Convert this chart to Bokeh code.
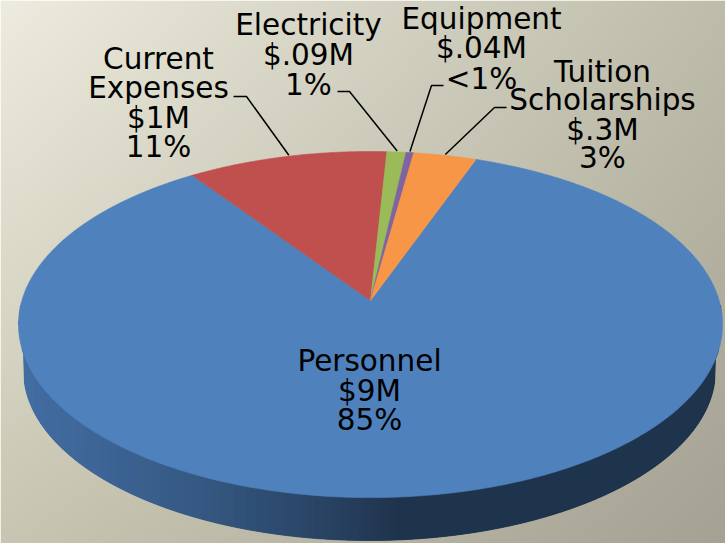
import numpy as np
from bokeh.plotting import figure
from bokeh.embed import file_html
from bokeh.resources import INLINE
from bokeh.core.properties import value

# ---- data (share of budget, %) ----
categories = ["Personnel", "Current Expenses", "Electricity", "Equipment", "Tuition Scholarships"]
shares = [84.8, 10.5, 1.0, 0.4, 3.3]
colors = ["#4F81BD", "#C0504D", "#9BBB59", "#8064A2", "#F79646"]

label_lines = [
    ["Personnel", "$9M", "85%"],
    ["Current", "Expenses", "$1M", "11%"],
    ["Electricity", "$.09M", "1%"],
    ["Equipment", "$.04M", "<1%"],
    ["Tuition", "Scholarships", "$.3M", "3%"],
]

# ---- layout (reference pixels) ----
W, H = 725, 543
CX, APEX_Y = 370.0, 300.0
R_X, R_Y, PERSP = 348.6, 169.7, 0.139
START_DEG = 20.0
LABEL_X = [369, 158, 308, 481, 602]
LABEL_Y = [[360, 390, 419], [58, 87, 117, 146], [24, 54, 84], [18, 47, 78], [71, 99, 129, 157]]
LEADERS = {
    1: ([233, 246], [96, 96]),
    2: ([337, 349], [91, 91]),
    3: ([443, 431], [85, 85]),
    4: ([506, 494], [107, 107]),
}
LEADER_END_DEG = {1: -15.4, 2: 5.0, 3: 7.4, 4: 14.1}
BOT_CX, BOT_CY, BOT_RX, BOT_RY = 369.0, 370.0, 346.0, 170.0
SIDE_STOPS_X = [17, 100, 200, 330, 400, 722]
SIDE_STOPS_RGB = [(66, 110, 163), (60, 100, 150), (52, 88, 130), (40, 65, 98), (30, 50, 75), (29, 50, 76)]
BG_CORNERS = {"tl": (238, 236, 222), "tr": (190, 188, 170), "bl": (200, 198, 178), "br": (165, 162, 148)}


def project(deg):
    t = np.radians(deg)
    w = 1 + PERSP * np.cos(t)
    return CX + R_X * np.sin(t) / w, APEX_Y - R_Y * np.cos(t) / w


p = figure(width=W, height=H, x_range=(0, 725), y_range=(543, 0),
           output_backend="svg", toolbar_location=None, min_border=0,
           outline_line_color=None, background_fill_color=None, border_fill_color=None)
p.axis.visible = False
p.grid.visible = False

# background gradient
u = np.linspace(0, 1, 363)[None, :, None]
v = np.linspace(0, 1, 272)[:, None, None]
c = {k: np.array(val, dtype=float)[None, None, :] for k, val in BG_CORNERS.items()}
rgb = (1 - u) * (1 - v) * c["tl"] + u * (1 - v) * c["tr"] + (1 - u) * v * c["bl"] + u * v * c["br"]
rgba = np.dstack([rgb, np.full((272, 363), 255.0)]).astype(np.uint8)
img = rgba.view(dtype=np.uint32).reshape(272, 363)
p.image_rgba(image=[img], x=0, y=0, dw=725, dh=543)

# side wall
th = np.linspace(90, 270, 1441)
tx, ty = project(th)
order = np.argsort(tx)
xs = np.arange(18, 722, 1.0)
top = np.interp(xs, tx[order], ty[order])
ins = 1 - ((xs - BOT_CX) / BOT_RX) ** 2
bot = np.where(ins > 0, BOT_CY + BOT_RY * np.sqrt(np.clip(ins, 0, None)), top)
bot = np.maximum(bot, top)
sx, sy, sc = [], [], []
for x0, x1, t0, t1, b0, b1 in zip(xs[:-1], xs[1:], top[:-1], top[1:], bot[:-1], bot[1:]):
    sx.append([x0, x1, x1, x0])
    sy.append([t0 - 3, t1 - 3, b1, b0])
    col = [int(np.interp(x0, SIDE_STOPS_X, [s[i] for s in SIDE_STOPS_RGB])) for i in range(3)]
    sc.append("#%02x%02x%02x" % tuple(col))
p.patches(sx, sy, fill_color=sc, line_color=sc, line_width=0.8)

# top surface: slices go clockwise from START_DEG, Personnel first
angles = np.cumsum([0] + list(shares)) / sum(shares) * 360 + START_DEG
wx, wy = [], []
for a0, a1 in zip(angles[:-1], angles[1:]):
    arc = np.linspace(a0, a1, max(3, int(a1 - a0) * 2))
    ax, ay = project(arc)
    wx.append([CX] + list(ax))
    wy.append([APEX_Y] + list(ay))
p.patches(wx, wy, fill_color=colors, line_color=colors, line_width=0.6)

# leader lines
for i, (lx, ly) in LEADERS.items():
    ex, ey = project(LEADER_END_DEG[i])
    p.line(lx + [float(ex)], ly + [float(ey) - 1], line_color="#000000", line_width=1.5)

# labels
tx_all, ty_all, tt_all = [], [], []
for lines, x0, ys in zip(label_lines, LABEL_X, LABEL_Y):
    for line, y0 in zip(lines, ys):
        tx_all.append(x0)
        ty_all.append(y0)
        tt_all.append(line)
p.text(tx_all, ty_all, text=tt_all, text_font=value("DejaVu Sans"), text_font_size="29.5px",
       text_color="#000000", text_align="center", text_baseline="middle")

open("out.html", "w").write(file_html(p, INLINE))
